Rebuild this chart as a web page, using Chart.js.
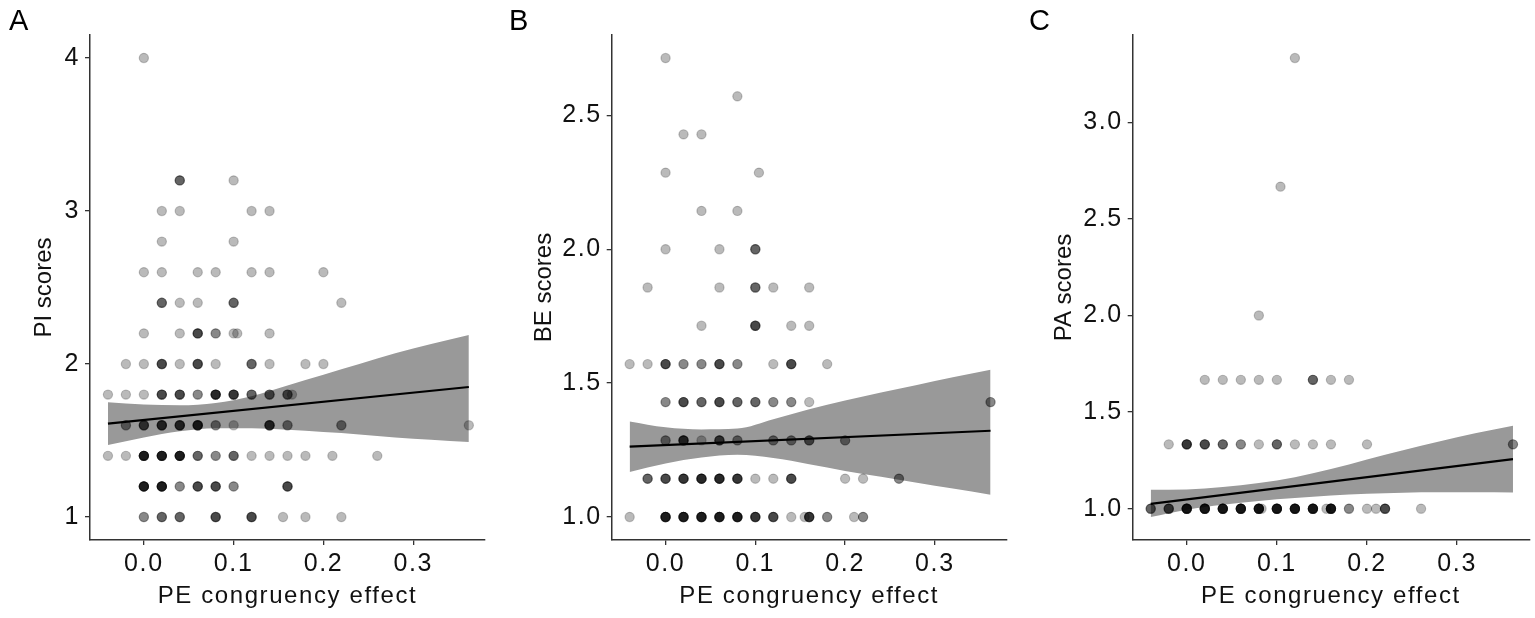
<!DOCTYPE html>
<html>
<head>
<meta charset="utf-8">
<script src="https://cdn.jsdelivr.net/npm/chart.js@4.4.1/dist/chart.umd.min.js"></script>
<style>
    body { margin: 0; background: #fff; width: 1535px; height: 618px; overflow: hidden; position: relative; font-family: "Liberation Sans", Arial, sans-serif; }
    .panel { position: absolute; top: 0; height: 618px; }
    .letter { position: absolute; top: 4px; font-size: 29px; color: #000; }
</style>
</head>
<body>
<div class="panel" style="left:0;width:505px"><canvas id="chartA"></canvas></div>
<div class="panel" style="left:505px;width:520px"><canvas id="chartB"></canvas></div>
<div class="panel" style="left:1025px;width:510px"><canvas id="chartC"></canvas></div>
<div class="letter" style="left:9px">A</div>
<div class="letter" style="left:509px">B</div>
<div class="letter" style="left:1029px">C</div>
<script>
// x axis (same for all three panels)
const xTickVals = [0, 0.1, 0.2, 0.3];
const xTickLabels = ['0.0', '0.1', '0.2', '0.3'];

// points: [PE congruency effect, score, how many points overlap there]
const piPoints = [
    [0, 4, 1],
    [0.04, 3.2, 3], [0.1, 3.2, 1],
    [0.02, 3, 1], [0.04, 3, 1], [0.12, 3, 1], [0.14, 3, 1],
    [0.02, 2.8, 1], [0.1, 2.8, 1],
    [0, 2.6, 1], [0.02, 2.6, 1], [0.06, 2.6, 1], [0.08, 2.6, 1], [0.12, 2.6, 1], [0.14, 2.6, 1], [0.2, 2.6, 1],
    [0.02, 2.4, 3], [0.04, 2.4, 1], [0.06, 2.4, 1], [0.1, 2.4, 3], [0.22, 2.4, 1],
    [0, 2.2, 1], [0.04, 2.2, 1], [0.06, 2.2, 4], [0.08, 2.2, 2], [0.1, 2.2, 1], [0.104, 2.2, 1], [0.14, 2.2, 1],
    [-0.02, 2, 1], [0, 2, 1], [0.02, 2, 4], [0.04, 2, 1], [0.06, 2, 4], [0.08, 2, 1], [0.12, 2, 3], [0.14, 2, 1], [0.18, 2, 1], [0.2, 2, 1],
    [-0.04, 1.8, 1], [-0.02, 1.8, 1], [0, 1.8, 1], [0.02, 1.8, 4], [0.04, 1.8, 4], [0.06, 1.8, 2], [0.08, 1.8, 6], [0.1, 1.8, 5], [0.12, 1.8, 3], [0.14, 1.8, 3], [0.16, 1.8, 3], [0.165, 1.8, 1],
    [-0.02, 1.6, 2], [0, 1.6, 4], [0.02, 1.6, 5], [0.04, 1.6, 5], [0.06, 1.6, 6], [0.08, 1.6, 2], [0.1, 1.6, 1], [0.14, 1.6, 5], [0.16, 1.6, 2], [0.22, 1.6, 2], [0.362, 1.6, 1],
    [-0.04, 1.4, 1], [-0.02, 1.4, 1], [0, 1.4, 7], [0.02, 1.4, 7], [0.04, 1.4, 7], [0.06, 1.4, 3], [0.08, 1.4, 2], [0.1, 1.4, 3], [0.12, 1.4, 1], [0.14, 1.4, 1], [0.16, 1.4, 1], [0.18, 1.4, 1], [0.21, 1.4, 1], [0.26, 1.4, 1],
    [0, 1.2, 7], [0.02, 1.2, 7], [0.04, 1.2, 2], [0.06, 1.2, 4], [0.08, 1.2, 4], [0.1, 1.2, 2], [0.16, 1.2, 4],
    [0, 1, 2], [0.02, 1, 3], [0.04, 1, 3], [0.08, 1, 4], [0.12, 1, 4], [0.155, 1, 1], [0.18, 1, 1], [0.22, 1, 1]
];
const bePoints = [
    [0, 2.714, 1],
    [0.08, 2.571, 1],
    [0.02, 2.429, 1], [0.04, 2.429, 1],
    [0, 2.286, 1], [0.104, 2.286, 1],
    [0.04, 2.143, 1], [0.08, 2.143, 1],
    [0, 2, 1], [0.06, 2, 1], [0.1, 2, 3],
    [-0.02, 1.857, 1], [0.06, 1.857, 1], [0.1, 1.857, 3], [0.12, 1.857, 1], [0.16, 1.857, 1],
    [0.04, 1.714, 1], [0.1, 1.714, 4], [0.14, 1.714, 1], [0.16, 1.714, 1],
    [-0.04, 1.571, 1], [-0.02, 1.571, 1], [0, 1.571, 4], [0.02, 1.571, 2], [0.04, 1.571, 2], [0.06, 1.571, 4], [0.08, 1.571, 2], [0.12, 1.571, 1], [0.14, 1.571, 4], [0.18, 1.571, 1],
    [0, 1.429, 2], [0.02, 1.429, 4], [0.04, 1.429, 3], [0.06, 1.429, 4], [0.08, 1.429, 3], [0.1, 1.429, 3], [0.12, 1.429, 2], [0.14, 1.429, 2], [0.16, 1.429, 1], [0.362, 1.429, 2],
    [0, 1.286, 2], [0.02, 1.286, 5], [0.04, 1.286, 1], [0.06, 1.286, 4], [0.08, 1.286, 2], [0.12, 1.286, 2], [0.14, 1.286, 2], [0.16, 1.286, 3], [0.2, 1.286, 2],
    [-0.02, 1.143, 3], [0, 1.143, 4], [0.02, 1.143, 5], [0.04, 1.143, 6], [0.06, 1.143, 6], [0.08, 1.143, 5], [0.1, 1.143, 1], [0.12, 1.143, 1], [0.14, 1.143, 4], [0.2, 1.143, 1], [0.22, 1.143, 1], [0.26, 1.143, 2],
    [-0.04, 1, 1], [0, 1, 7], [0.02, 1, 7], [0.04, 1, 7], [0.06, 1, 7], [0.08, 1, 7], [0.1, 1, 5], [0.12, 1, 4], [0.14, 1, 1], [0.155, 1, 1], [0.16, 1, 5], [0.18, 1, 2], [0.21, 1, 1], [0.22, 1, 2]
];
const paPoints = [
    [0.12, 3.333, 1],
    [0.104, 2.667, 1],
    [0.08, 2, 1],
    [0.02, 1.667, 1], [0.04, 1.667, 1], [0.06, 1.667, 1], [0.08, 1.667, 1], [0.1, 1.667, 1], [0.14, 1.667, 3], [0.16, 1.667, 1], [0.18, 1.667, 1],
    [-0.02, 1.333, 1], [0, 1.333, 5], [0.02, 1.333, 4], [0.04, 1.333, 3], [0.06, 1.333, 2], [0.08, 1.333, 1], [0.1, 1.333, 3], [0.12, 1.333, 1], [0.14, 1.333, 1], [0.16, 1.333, 1], [0.2, 1.333, 1], [0.362, 1.333, 2],
    [-0.04, 1, 3], [-0.02, 1, 4], [0, 1, 8], [0.02, 1, 8], [0.04, 1, 8], [0.06, 1, 8], [0.08, 1, 8], [0.083, 1, 1], [0.1, 1, 8], [0.12, 1, 8], [0.14, 1, 8], [0.155, 1, 1], [0.16, 1, 8], [0.18, 1, 2], [0.2, 1, 1], [0.21, 1, 1], [0.22, 1, 4], [0.26, 1, 1]
];

// regression line ends and confidence band, read at bandX
const lineX = [-0.04, 0.362];
const piLine = [1.61, 1.85];
const beLine = [1.263, 1.322];
const paLine = [1.025, 1.257];

const bandX = [-0.04, 0, 0.04, 0.08, 0.12, 0.16, 0.2, 0.24, 0.28, 0.32, 0.362];
const piUpper = [1.75, 1.735, 1.73, 1.745, 1.79, 1.86, 1.93, 2.0, 2.07, 2.13, 2.19];
const piLower = [1.47, 1.52, 1.56, 1.58, 1.58, 1.57, 1.555, 1.54, 1.52, 1.505, 1.49];
const beUpper = [1.357, 1.335, 1.327, 1.33, 1.365, 1.402, 1.435, 1.465, 1.493, 1.522, 1.55];
const beLower = [1.168, 1.2, 1.222, 1.232, 1.22, 1.197, 1.172, 1.15, 1.128, 1.106, 1.083];
const paUpper = [1.098, 1.1, 1.112, 1.133, 1.163, 1.205, 1.255, 1.303, 1.348, 1.39, 1.429];
const paLower = [0.957, 0.995, 1.02, 1.04, 1.055, 1.068, 1.078, 1.083, 1.085, 1.085, 1.084];

// y axes
const piTicks = [1, 2, 3, 4];
const piTickLabels = ['1', '2', '3', '4'];
const beTicks = [1, 1.5, 2, 2.5];
const beTickLabels = ['1.0', '1.5', '2.0', '2.5'];
const paTicks = [1, 1.5, 2, 2.5, 3];
const paTickLabels = ['1.0', '1.5', '2.0', '2.5', '3.0'];

window.addEventListener('load', function () {
    const fontFamily = '"Liberation Sans", Arial, sans-serif';
    const axisColor = '#333333';
    const spacing = '1.6px';

    // the reference text is a bit wider than Liberation Sans, so open it up slightly
    const espaciado = {
        id: 'espaciado',
        beforeUpdate: chart => { chart.ctx.letterSpacing = spacing; },
        beforeDraw: chart => { chart.ctx.letterSpacing = spacing; }
    };

    // vertical title keeps normal spacing
    function tituloSinEspacio(scale) {
        if (scale._tituloParcheado) return;
        const original = scale.drawTitle;
        scale.drawTitle = function () {
            this.ctx.letterSpacing = '0px';
            original.call(this);
            this.ctx.letterSpacing = spacing;
        };
        scale._tituloParcheado = true;
    }

    function expandirPuntos(puntos) {
        let out = [];
        puntos.forEach(p => {
            for (let i = 0; i < p[2]; i++) {
                out.push({ x: p[0], y: p[1] });
            }
        });
        return out;
    }

    function pares(xs, ys) {
        return xs.map((x, i) => ({ x: x, y: ys[i] }));
    }

    function crearPanel(id, p) {
        const ctx = document.getElementById(id).getContext('2d');
        return new Chart(ctx, {
            type: 'scatter',
            plugins: [espaciado],
            data: {
                datasets: [
                    {
                        type: 'line',
                        data: pares(lineX, p.line),
                        borderColor: '#000',
                        borderWidth: 2.2,
                        pointRadius: 0,
                        fill: false,
                        order: 0
                    },
                    {
                        data: expandirPuntos(p.points),
                        backgroundColor: 'rgba(0,0,0,0.27)',
                        borderColor: 'rgba(0,0,0,0.22)',
                        borderWidth: 1.2,
                        pointRadius: 4.6,
                        order: 1
                    },
                    {
                        type: 'line',
                        data: pares(bandX, p.upper),
                        borderWidth: 0,
                        borderColor: 'rgba(0,0,0,0)',
                        pointRadius: 0,
                        cubicInterpolationMode: 'monotone',
                        fill: false,
                        order: 2
                    },
                    {
                        type: 'line',
                        data: pares(bandX, p.lower),
                        borderWidth: 0,
                        borderColor: 'rgba(0,0,0,0)',
                        backgroundColor: '#999999',
                        pointRadius: 0,
                        cubicInterpolationMode: 'monotone',
                        fill: '-1',
                        order: 3
                    }
                ]
            },
            options: {
                responsive: false,
                animation: false,
                layout: { padding: { top: 35, right: p.right, left: 0, bottom: 0 } },
                plugins: {
                    legend: { display: false },
                    tooltip: { enabled: false },
                    filler: { propagate: false }
                },
                scales: {
                    x: {
                        type: 'linear',
                        min: -0.06,
                        max: 0.38,
                        afterBuildTicks: s => { s.ticks = xTickVals.map(v => ({ value: v })); },
                        afterFit: s => { s.height = 78; },
                        ticks: {
                            callback: (v, i) => xTickLabels[i],
                            color: '#111',
                            font: { family: fontFamily, size: 25 },
                            padding: 4,
                            maxRotation: 0
                        },
                        grid: { drawOnChartArea: false, drawTicks: true, tickLength: 5, color: axisColor, lineWidth: 1.3 },
                        border: { display: true, color: axisColor, width: 1.5 },
                        title: {
                            display: true,
                            text: 'PE congruency effect',
                            color: '#111',
                            font: { family: fontFamily, size: 24 },
                            padding: { top: 0, bottom: 7 }
                        }
                    },
                    y: {
                        type: 'linear',
                        min: p.ymin,
                        max: p.ymax,
                        afterBuildTicks: s => { s.ticks = p.ticks.map(v => ({ value: v })); },
                        afterFit: s => { s.width = p.axisWidth; tituloSinEspacio(s); },
                        ticks: {
                            callback: (v, i) => p.tickLabels[i],
                            color: '#111',
                            font: { family: fontFamily, size: 25 },
                            padding: 5
                        },
                        grid: { drawOnChartArea: false, drawTicks: true, tickLength: 5, color: axisColor, lineWidth: 1.3 },
                        border: { display: true, color: axisColor, width: 1.5 },
                        title: {
                            display: true,
                            text: p.title,
                            color: '#111',
                            font: { family: fontFamily, size: 24 },
                            padding: { top: p.titlePad, bottom: 0 }
                        }
                    }
                }
            }
        });
    }

    function ajustar(id, w) {
        const c = document.getElementById(id);
        c.width = w;
        c.height = 618;
        c.style.width = w + 'px';
        c.style.height = '618px';
    }

    ajustar('chartA', 505);
    ajustar('chartB', 520);
    ajustar('chartC', 510);

    crearPanel('chartA', {
        points: piPoints, line: piLine, upper: piUpper, lower: piLower,
        ticks: piTicks, tickLabels: piTickLabels, ymin: 0.85, ymax: 4.15,
        title: 'PI scores', axisWidth: 90, titlePad: 30, right: 20
    });
    crearPanel('chartB', {
        points: bePoints, line: beLine, upper: beUpper, lower: beLower,
        ticks: beTicks, tickLabels: beTickLabels, ymin: 0.914, ymax: 2.80,
        title: 'BE scores', axisWidth: 106.7, titlePad: 24.6, right: 18.3
    });
    crearPanel('chartC', {
        points: paPoints, line: paLine, upper: paUpper, lower: paLower,
        ticks: paTicks, tickLabels: paTickLabels, ymin: 0.838, ymax: 3.452,
        title: 'PA scores', axisWidth: 107.7, titlePad: 25.2, right: 5.7
    });
});
</script>
</body>
</html>
